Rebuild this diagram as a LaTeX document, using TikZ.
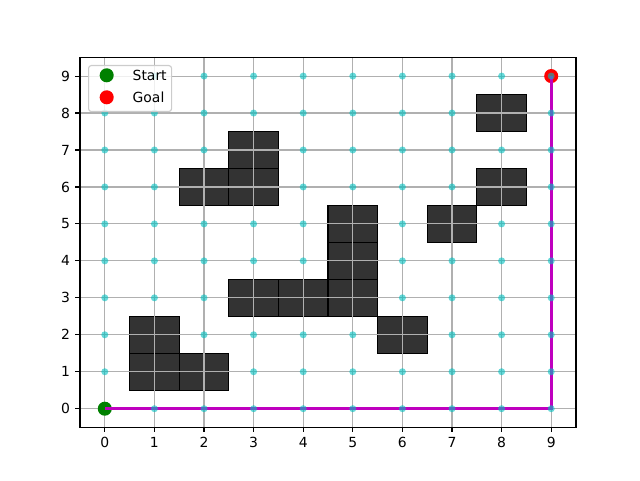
\documentclass[tikz,border=0pt]{standalone}
\usepackage{fontspec}
\setmainfont{DejaVu Sans}
\usetikzlibrary{positioning}

\definecolor{obstgray}{RGB}{51,51,51}
\definecolor{gridgray}{RGB}{176,176,176}
\definecolor{dotcyan}{RGB}{0,191,191}
\definecolor{startgreen}{RGB}{0,128,0}
\definecolor{goalred}{RGB}{255,0,0}
\definecolor{routemag}{RGB}{191,0,191}
\definecolor{legendedge}{RGB}{204,204,204}

\tikzset{
  obst/.style={fill=obstgray, draw=black, line width=0.9pt},
  gridline/.style={draw=gridgray, line width=0.8pt},
  freept/.style={fill=dotcyan, fill opacity=0.6},
  marker/.style={circle, inner sep=0pt, minimum size=10pt},
  route/.style={draw=routemag, line width=2pt},
  spine/.style={draw=black, line width=0.8pt},
  tickmark/.style={draw=black, line width=0.8pt},
  ticklabel/.style={inner sep=0pt},
  legendbox/.style={draw=legendedge, fill=white, fill opacity=0.8, rounded corners=2pt,
    line width=0.8pt, minimum width=2.075cm, minimum height=1.15cm, anchor=north west},
  keytext/.style={inner sep=0pt, anchor=west}
}

\begin{document}
\begin{tikzpicture}[x=1.24cm, y=0.924cm, font=\fontsize{9.9}{12}\selectfont]
  \useasboundingbox (-2.113,-1.929) rectangle (10.790,11.058);

  % obstacles
  \foreach \ox/\oy in {1/1,1/2,2/1,6/2,3/3,4/3,5/3,5/4,5/5,7/5,2/6,3/6,3/7,8/6,8/8} {
    \draw[obst] (\ox-0.5,\oy-0.5) rectangle (\ox+0.5,\oy+0.5);
    \expandafter\gdef\csname blocked-\ox-\oy\endcsname{}
  }
  \expandafter\gdef\csname blocked-0-0\endcsname{}

  % grid
  \foreach \g in {0,...,9} {
    \draw[gridline] (\g,-0.5) -- (\g,9.5);
    \draw[gridline] (-0.5,\g) -- (9.5,\g);
  }

  % start, goal and route
  \node[marker, fill=startgreen] (start) at (0,0) {};
  \node[marker, fill=goalred] (goal) at (9,9) {};
  \coordinate (turn) at (9,0);
  \draw[route] (start.center) -- (turn) -- (goal.center);

  % free grid points
  \foreach \px in {0,...,9} {
    \foreach \py in {0,...,9} {
      \ifcsname blocked-\px-\py\endcsname\else
        \fill[freept] (\px,\py) circle[radius=2.5pt];
      \fi
    }
  }

  % axes
  \foreach \t in {0,...,9} {
    \draw[tickmark] (\t,-0.5) -- ++(0,-3.5pt);
    \node[ticklabel, anchor=north] (xl\t) at ([yshift=-7pt]\t,-0.5) {\t};
    \draw[tickmark] (-0.5,\t) -- ++(-3.5pt,0);
    \node[ticklabel, anchor=east] (yl\t) at ([xshift=-7pt]-0.5,\t) {\t};
  }
  \draw[spine] (-0.5,-0.5) rectangle (9.5,9.5);

  % legend
  \coordinate (axcorner) at (-0.5,9.5);
  \node[legendbox] (legend) at ([xshift=0.2cm,yshift=-0.185cm]axcorner) {};
  \node[marker, fill=startgreen] (keystart) at ([xshift=0.667cm,yshift=-0.443cm]axcorner) {};
  \node[marker, fill=goalred] (keygoal) at ([xshift=0.667cm,yshift=-0.993cm]axcorner) {};
  \node[keytext, right=0.46cm of keystart] (startlabel) {Start};
  \node[keytext, right=0.46cm of keygoal] (goallabel) {Goal};
\end{tikzpicture}
\end{document}
